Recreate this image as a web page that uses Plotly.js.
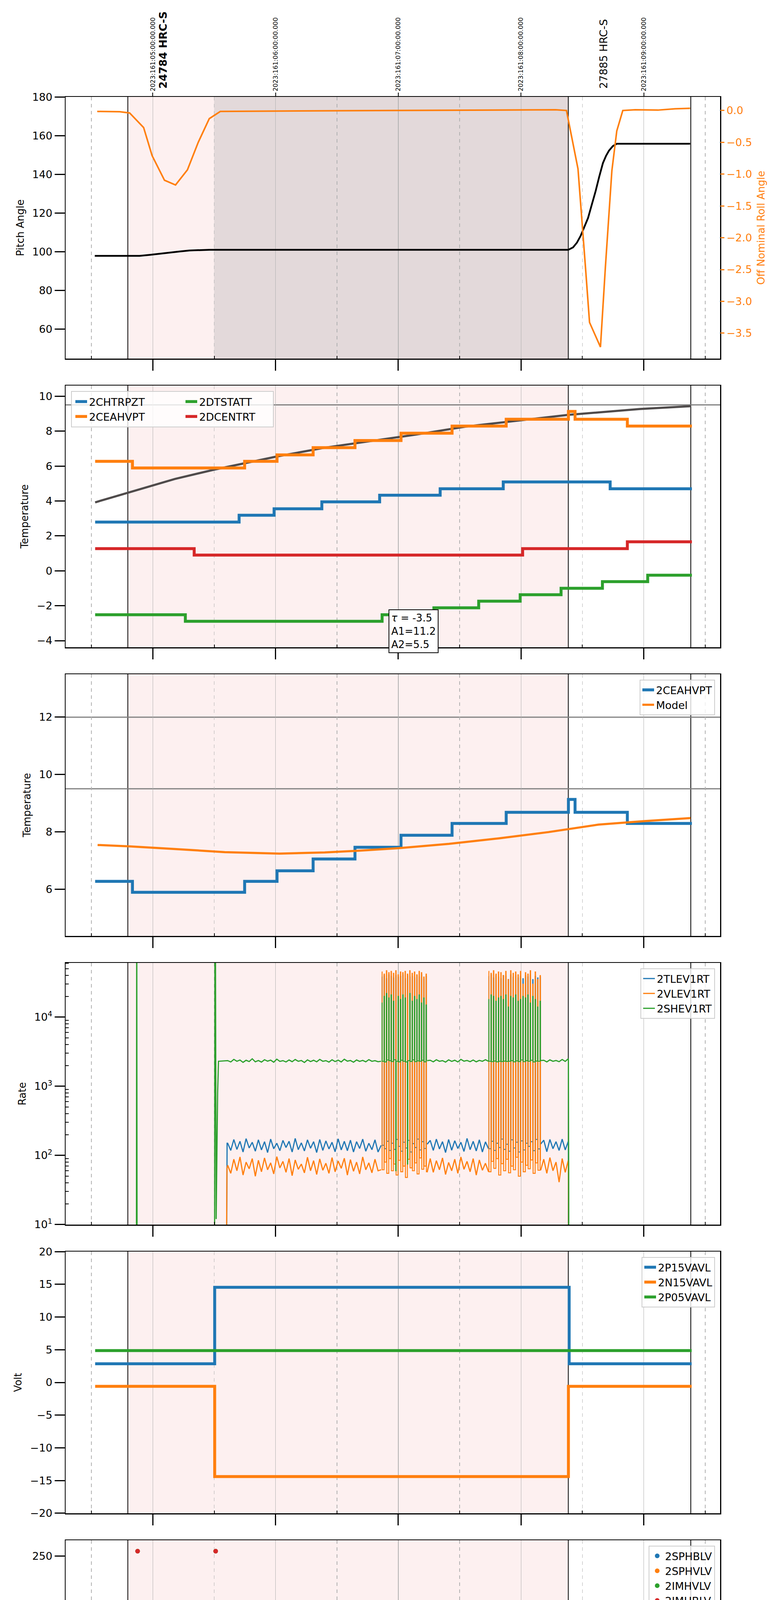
<!DOCTYPE html>
<html><head><meta charset="utf-8">
<script src="https://cdn.plot.ly/plotly-3.0.1.min.js"></script>
<style>body{margin:0;background:#fff}#chart{width:2000px;height:6200px}</style>
</head><body><div id="chart"></div>
<script>
// ---------------- DATA (x = hours of 2023-06-10 local, 161) ----------------
const hourTicks = [1, 2, 3, 4, 5];
const hourLabels = ['01h', '02h', '03h', '04h', '05h'];
const halfTicks = [0.5, 1.5, 2.5, 3.5, 4.5, 5.5];
const halfLabels = ['30', '30', '30', '30', '30', '30'];
const utcLabels = ['2023:161:05:00:00.000', '2023:161:06:00:00.000', '2023:161:07:00:00.000', '2023:161:08:00:00.000', '2023:161:09:00:00.000'];
const obsidTimes = [0.7963, 4.385];
const obsidLabels = ['24784 HRC-S', '27885 HRC-S'];
const obsidBold = [true, false];
const boundaryTimes = [0.7963, 4.385, 5.383];
const hrcShade = [0.7963, 4.385];
const darkShade = [1.499, 4.385];

// Panel 1
const pitchT = [0.527,0.70,0.892,0.974,1.05,1.136,1.22,1.298,1.38,1.46,1.6,2.5,3.5,4.385,4.424,4.455,4.485,4.515,4.546,4.577,4.607,4.637,4.667,4.692,4.716,4.748,4.78,5.0,5.378];
const pitchV = [97.9,97.9,97.9,98.4,99.0,99.7,100.2,100.7,100.95,101.05,101.05,101.05,101.05,101.05,102.3,104.7,108.2,112.5,117.5,124.5,131.2,138.8,145.8,149.5,152.2,154.6,155.8,155.8,155.8];
const rollT = [0.547,0.730,0.811,0.925,0.994,1.095,1.185,1.282,1.37,1.460,1.550,2.0,2.5,3.0,3.5,4.0,4.281,4.37,4.464,4.525,4.558,4.647,4.687,4.74,4.78,4.829,4.93,5.114,5.255,5.378];
const rollV = [-0.015,-0.02,-0.039,-0.268,-0.709,-1.096,-1.171,-0.932,-0.5,-0.128,-0.015,-0.008,-0.004,0.0,0.005,0.008,0.012,0.0,-0.918,-2.467,-3.331,-3.718,-2.467,-0.947,-0.321,0.0,0.012,0.006,0.027,0.035];

// Panel 2
const p2ModelT = [0.53,0.80,1.18,1.504,1.79,2.012,2.40,2.803,3.143,3.55,4.16,4.386,4.97,5.387];
const p2ModelV = [3.92,4.48,5.26,5.80,6.22,6.55,7.05,7.45,7.80,8.26,8.74,8.93,9.27,9.43];
const chtrT = [0.53,1.703,1.988,2.377,2.848,3.341,3.855,4.726,5.392];
const chtrV = [2.79,3.18,3.55,3.95,4.33,4.70,5.09,4.70,4.70];
const ceahT = [0.53,0.834,1.748,2.012,2.306,2.647,3.022,3.438,3.879,4.386,4.44,4.866,5.392];
const ceahV = [6.27,5.89,6.27,6.64,7.05,7.46,7.88,8.29,8.68,9.13,8.68,8.29,8.29];
const dtstT = [0.53,1.265,2.868,3.29,3.655,3.993,4.326,4.663,5.032,5.392];
const dtstV = [-2.52,-2.89,-2.52,-2.12,-1.74,-1.37,-1.0,-0.62,-0.25,-0.25];
const dcenT = [0.53,1.337,4.013,4.866,5.392];
const dcenV = [1.27,0.90,1.27,1.66,1.66];
const p2Limits = [9.5];
const fitText = ['<i>τ</i> = -3.5', 'A1=11.2', 'A2=5.5'];

// Panel 3
const modelT = [0.55,0.814,1.18,1.586,2.032,2.40,2.682,3.005,3.413,3.818,4.224,4.63,4.995,5.381];
const modelV = [7.54,7.49,7.40,7.29,7.24,7.28,7.34,7.43,7.58,7.77,7.99,8.25,8.37,8.48];
const p3Limits = [12, 9.5];

// Panel 4 (rates): quiet-time samples and burst spikes
const tNa = [1.61,1.635,1.66,1.685,1.71,1.735,1.76,1.785,1.81,1.835,
1.86,1.885,1.91,1.935,1.96,1.985,2.01,2.035,2.06,2.085,
2.11,2.135,2.16,2.185,2.21,2.235,2.26,2.285,2.31,2.335,
2.36,2.385,2.41,2.435,2.46,2.485,2.51,2.535,2.56,2.585,
2.61,2.635,2.66,2.685,2.71,2.735,2.76,2.785,2.81,2.835,2.86];
const tNb = [3.235,3.26,3.285,3.31,3.335,3.36,3.385,3.41,3.435,3.46,3.485,3.51,3.535,3.56,3.585,3.61,3.635,3.66,3.685,3.71,3.735];
const tNc = [4.16,4.185,4.21,4.235,4.26,4.285,4.31,4.335,4.36,4.385];
const rb1T = [2.865,2.868,2.884,2.887,2.903,2.906,2.922,2.925,2.941,2.944,2.960,2.963,2.979,2.982,2.998,3.001,3.017,3.020,3.036,3.039,
3.055,3.058,3.074,3.077,3.093,3.096,3.112,3.115,3.131,3.134,3.150,3.153,3.169,3.172,3.188,3.191,3.207,3.210,3.226,3.229];
const rb2T = [3.735,3.738,3.755,3.758,3.775,3.778,3.795,3.798,3.815,3.818,3.835,3.838,3.855,3.858,3.875,3.878,3.895,3.898,3.915,3.918,3.935,3.938,
3.955,3.958,3.975,3.978,3.995,3.998,4.015,4.018,4.035,4.038,4.055,4.058,4.075,4.078,4.095,4.098,4.115,4.118,4.135,4.138,4.155,4.158];
const tlevA = [150,118,170,122,160,112,175,128,155,115,168,120,158,110,172,125,150,117,165,130,160,112,176,121,152,116,168,127,158,110,170,118,162,124,155,113,174,120,160,117,166,112,158,126,172,115,150,121,168,112,140];
const tlevB = [145,165,118,172,124,158,110,170,119,163,126,155,114,176,121,160,116,168,112,157,125];
const tlevC = [146,166,113,170,125,158,118,172,120,160];
const tlevB1 = [38000,140,40000,125,36000,160,41000,118,39000,150,37000,122,40000,170,38000,135,39000,115,41000,155,36000,128,40000,165,38000,112,39000,148,37000,130,40000,172,38000,120,41000,158,36000,126,39000,145];
const tlevB2 = [39000,125,41000,160,37000,118,40000,150,38000,130,36000,172,40000,122,39000,145,35000,115,41000,168,38000,128,40000,155,37000,112,39000,162,36000,120,40000,150,38000,135,41000,158,35000,117,39000,170,37000,124,38000,146];
const vlevA = [72,55,88,60,95,52,80,64,90,50,85,58,92,62,78,54,96,66,82,57,90,51,86,63,75,56,94,60,84,53,89,61,77,55,93,58,83,65,91,52,87,59,80,54,95,62,78,56,88,60,62];
const vlevB = [57,90,57,84,62,92,53,79,60,88,55,95,63,82,58,90,52,86,61,77,58];
const vlevC = [61,88,55,93,60,80,41,90,57,85];
const vlevB1 = [45000,62,42000,80,47000,55,44000,90,46000,60,43000,75,47000,52,41000,85,45000,58,44000,70,46000,48,42000,88,47000,66,43000,60,45000,78,41000,54,46000,92,44000,63,38000,70,42000,57];
const vlevB2 = [46000,58,43000,82,47000,65,42000,90,45000,52,44000,76,40000,60,46000,88,35000,56,47000,70,43000,62,45000,94,41000,50,46000,80,30000,58,44000,72,42000,64,47000,86,30000,55,45000,78,35000,61,40000,84];
const shevA = [2350,2250,2450,2300,2400,2220,2380,2280,2500,2260,2360,2240,2420,2310,2390,2230,2470,2290,2350,2250,2400,2270,2440,2300,2360,2210,2410,2280,2380,2260,2450,2300,2350,2240,2420,2280,2390,2250,2460,2310,2360,2230,2400,2290,2370,2260,2430,2300,2350,2270,2300];
const shevB = [2350,2380,2260,2420,2300,2350,2240,2410,2290,2380,2250,2450,2310,2360,2270,2400,2260,2370,2300,2420,2300];
const shevC = [2360,2380,2250,2410,2300,2360,2270,2440,2290,2500];
const shevB1 = [16000,2300,20000,2250,22000,2400,19000,2350,21000,2280,17000,2420,60,2300,20000,2260,18000,2380,21000,2300,19000,2250,75,2350,22000,2290,17000,2410,20000,2270,18000,2330,21000,2300,16000,2380,19000,2260,15000,2350];
const shevB2 = [18000,2300,21000,2270,20000,2320,17000,2260,19000,2300,20000,2280,18000,2310,21000,2290,14000,2300,20000,2350,19000,2260,21000,2330,17000,2280,18000,2400,20000,2270,19000,2350,21000,2300,16000,2380,20000,2250,18000,2320,14000,2300,17000,2360];
const tlevPreT = [1.50,1.60,1.605], tlevPreV = [1,1,150];
const vlevPreT = [1.50,1.598,1.604], vlevPreV = [1,1,65];
const shevPreT = [0.53,0.866,0.869,0.872,1.503,1.506,1.509,1.516,1.528,1.535];
const shevPreV = [1,1,1e6,1,1,1e6,1e6,12,800,2300];
const rateEndT = [4.386,4.39,5.39];
const tlevEndV = [150,1,1], vlevEndV = [70,1,1], shevEndV = [2350,1,1];
const logTickVals = [10,100,1000,10000];
const logTickText = ['10<sup>1</sup>','10<sup>2</sup>','10<sup>3</sup>','10<sup>4</sup>'];
const logMinor = [20,30,40,50,60,70,80,90,200,300,400,500,600,700,800,900,2000,3000,4000,5000,6000,7000,8000,9000,20000,30000,40000,50000,60000];

// Panel 5
const p15T = [0.53,1.504,4.392,5.39], p15V = [2.85,14.55,2.85,2.85];
const n15T = [0.53,1.504,4.386,5.39], n15V = [-0.6,-14.4,-0.6,-0.6];
const p05T = [0.53,5.39], p05V = [4.87,4.87];

// Panel 6 (HV monitor points)
const tN = [1.61,1.635,1.66,1.685,1.71,1.735,1.76,1.785,1.81,1.835,
1.86,1.885,1.91,1.935,1.96,1.985,2.01,2.035,2.06,2.085,
2.11,2.135,2.16,2.185,2.21,2.235,2.26,2.285,2.31,2.335,
2.36,2.385,2.41,2.435,2.46,2.485,2.51,2.535,2.56,2.585,
2.61,2.635,2.66,2.685,2.71,2.735,2.76,2.785,2.81,2.835,
2.86,2.885,2.91,2.935,2.96,2.985,3.01,3.035,3.06,3.085,
3.11,3.135,3.16,3.185,3.21,3.235,3.26,3.285,3.31,3.335,
3.36,3.385,3.41,3.435,3.46,3.485,3.51,3.535,3.56,3.585,
3.61,3.635,3.66,3.685,3.71,3.735,3.76,3.785,3.81,3.835,
3.86,3.885,3.91,3.935,3.96,3.985,4.01,4.035,4.06,4.085,
4.11,4.135,4.16,4.185,4.21,4.235,4.26,4.285,4.31,4.335,
4.36,4.385];
const sphbPreT = [1.551,1.556,1.565,1.574,1.583,1.592], sphbPreV = [117,102,97,92,87,82];
const sphvPreT = [1.549,1.556,1.566,1.576,1.585,1.596], sphvPreV = [127,96,91,85,80,75];
const sphvOutT = [2.894,2.977,2.99,3.002,3.094,3.148,3.782], sphvOutV = [127,127,127,127,127,127,127];
const hvBlueBand = [77.5,77.3,77.6,77.4,77.5,77.7,77.3,77.5,77.6,77.4,
77.5,77.6,77.3,77.5,77.4,77.7,77.5,77.3,77.6,77.5,
77.4,77.5,77.7,77.3,77.5,77.6,77.4,77.5,77.3,77.6,
77.5,77.4,77.6,77.5,77.3,77.7,77.5,77.4,77.6,77.5,
77.3,77.5,77.6,77.4,77.5,77.7,77.3,77.5,77.6,77.4,
77.5,77.6,77.3,77.5,77.4,77.7,77.5,77.3,77.6,77.5,
77.4,77.5,77.7,77.3,77.5,77.6,77.4,77.5,77.3,77.6,
77.5,77.4,77.6,77.5,77.3,77.7,77.5,77.4,77.6,77.5,
77.3,77.5,77.6,77.4,77.5,77.7,77.3,77.5,77.6,77.4,
77.5,77.6,77.3,77.5,77.4,77.7,77.5,77.3,77.6,77.5,
77.4,77.5,77.7,77.3,77.5,77.6,77.4,77.5,77.3,77.6,
77.5,77.4];
const hvOrangeBand = [70.6,70.4,70.5,68.9,70.6,70.5,70.3,70.6,70.5,70.4,
70.5,70.6,69.0,70.5,70.4,70.6,70.5,70.3,70.6,68.8,
70.5,70.4,70.6,70.5,70.3,69.1,70.5,70.6,70.4,70.5,
70.6,70.3,70.5,70.4,68.9,70.6,70.5,70.4,70.6,70.5,
70.4,70.5,70.6,69.0,70.5,70.4,70.6,70.3,70.5,70.6,
70.5,70.4,68.8,70.6,70.5,70.3,70.6,70.5,69.1,70.4,
70.6,70.5,70.4,70.6,70.3,70.5,68.9,70.6,70.4,70.5,
70.5,70.6,70.4,70.5,70.3,70.6,70.5,69.0,70.4,70.6,
70.3,70.5,70.6,70.4,68.8,70.5,70.6,70.4,70.5,70.3,
70.6,70.5,70.4,69.1,70.5,70.6,70.3,70.5,70.4,70.6,
70.5,70.4,70.6,70.5,68.9,70.3,70.6,70.5,70.4,70.5,
70.6,70.4];
const imhbT = [0.876,1.512], imhbV = [255,255];
const imhvlT = [0.876,1.512], imhvlV = [255,255];

// Panel 7 (detector temps)
const spinT = [1.504,2.58,2.865,2.871,2.877,2.883,2.889,2.895,2.901,2.907,2.913,2.919,2.925,2.931,2.975,2.981,3.075,3.081,3.12,3.126,3.2,3.206,3.729,3.735,3.741,3.747,3.753,3.759,3.765,3.771,3.85,3.856,3.908,3.92,3.926,3.936,3.942,4.386];
const spinV = [3.26,3.72,0,3.72,0,3.72,0,3.72,0,3.72,0,3.72,0,3.72,0,3.72,0,3.72,0,3.72,0,3.72,0,3.72,0,3.72,0,3.72,0,3.72,0,3.72,4.14,0,4.14,0,4.14,4.14];
const sphvPreT7 = [1.504,1.679,1.756,1.833,1.910,1.988,2.072,2.170,2.276,2.397,2.539,2.702];
const sphvPreV7 = [15.26,15.54,15.81,16.10,16.38,16.66,16.96,17.24,17.53,17.81,18.10,18.40];
const sphvB1T = [2.865,2.877,2.889,2.901,2.913,2.925,2.937,2.949,2.961,2.973,2.977,2.981,3.02,3.032,3.044,3.056,3.068,3.077,3.081,3.093,3.105,3.117,3.129,3.141,3.153,3.165,3.171,3.20,3.205];
const sphvB1V = [10.5,18.69,10.5,18.69,10.5,18.69,10.5,18.69,10.5,18.69,0.2,18.69,10.5,18.69,10.5,18.69,10.5,0.2,18.97,10.5,18.97,10.5,18.97,10.5,18.97,10.5,18.97,10.8,18.97];
const sphvMidT = [3.319,3.607], sphvMidV = [19.28,19.58];
const sphvB2T = [3.729,3.741,3.753,3.765,3.777,3.789,3.801,3.813,3.818,3.90,3.912,3.924,3.936,3.948,3.96,3.972,3.984,3.996,4.008,4.02,4.026];
const sphvB2V = [11.0,19.58,11.0,19.58,11.0,19.58,11.0,19.58,19.87,11.0,19.87,11.0,19.87,11.0,19.87,11.0,19.87,11.0,19.87,11.2,19.87];
const sphvEndT = [4.265,4.386], sphvEndV = [20.18,20.18];
const iminT = [1.504,2.165,2.177,2.189,2.201,2.213,2.225,2.237,2.249,2.261,2.27,
2.865,2.871,2.877,2.883,2.889,2.895,2.935,2.941,2.947,2.953,2.959,2.965,2.971,2.977,3.02,3.026,3.032,3.038,
3.07,3.076,3.082,3.088,3.094,3.10,3.14,3.146,3.152,3.158,3.18,3.186,3.20,3.206,
3.729,3.735,3.741,3.747,3.753,3.759,3.765,3.771,3.85,3.856,3.90,3.906,3.912,3.918,3.95,3.956,4.386];
const iminV = [2.36,1.91,2.36,1.91,2.36,1.91,2.36,1.91,2.36,1.91,1.91,
3.72,1.91,3.72,1.91,3.72,1.91,3.72,1.91,3.72,1.91,3.72,1.91,3.72,1.91,3.72,1.91,3.72,1.91,
3.72,2.36,3.72,2.36,3.72,2.36,3.72,2.36,3.72,2.36,3.72,2.36,3.72,2.36,
3.72,2.36,3.72,2.36,3.72,2.36,3.72,2.36,3.72,2.36,3.72,2.36,3.72,2.36,3.72,2.36,2.36];
const imhvPreT = [0.53,1.504,1.725,1.731,2.19,2.53], imhvPreV = [-5,14.70,14.45,14.70,15.0,15.29];
const imhvB1T = [2.865,2.871,2.877,2.883,2.889,2.895,2.935,2.941,2.947,2.953,2.959,2.965,2.971,2.977,2.983,2.989,3.02,3.026,3.032,3.038,3.044,3.05,3.056,3.062,3.068,3.074,3.08,3.086,3.092,3.098,3.104,3.11,3.116,3.122,3.128,3.134,3.14,3.146,3.152,3.158,3.164,3.17,3.176,3.182,3.20,3.206];
const imhvB1V = [18.77,15.53,19.08,15.53,18.77,15.53,18.77,15.53,19.08,15.53,18.77,15.53,19.08,15.53,18.77,15.53,19.08,15.53,18.77,15.53,19.08,15.53,18.77,15.53,19.08,15.53,18.77,15.53,19.08,15.53,18.77,15.53,19.08,15.53,18.77,15.53,19.08,15.53,18.77,15.53,19.08,15.53,18.77,15.53,19.08,15.53];
const imhvMidT = [3.21,3.58], imhvMidV = [15.83,16.11];
const imhvB2T = [3.729,3.735,3.741,3.747,3.753,3.759,3.765,3.771,3.777,3.783,3.789,3.795,3.801,3.807,3.813,3.819,3.90,3.906,3.912,3.918,3.924,3.93,3.936,3.942,3.948,3.954,3.96,3.966,3.972,3.978,3.984,3.99,4.02,4.026];
const imhvB2V = [19.99,16.11,19.7,16.11,19.99,16.11,19.7,16.11,19.99,16.11,19.7,16.11,19.99,16.11,19.7,16.11,19.99,16.11,19.7,16.11,19.99,16.11,19.99,16.11,19.7,16.11,19.99,16.4,19.7,16.4,19.99,16.4,19.99,16.4];
const imhvEndT = [4.37,4.386,4.392,5.39], imhvEndV = [16.7,30,-5,-5];

// Panel 8 (FEA temps)
const fhtrT = [0.53,1.078,1.748,1.91,2.072,2.227,2.377,2.535,2.71,2.872,3.039,3.238,3.413,3.607,3.818,4.0,4.204,4.21,4.434,4.659,5.109,5.39];
const fhtrV = [-6.0,-6.39,-6.0,-5.6,-5.21,-4.82,-4.42,-4.04,-3.65,-3.27,-2.88,-2.50,-2.10,-1.75,-1.37,-0.99,-0.17,-0.61,-0.23,-0.61,-0.99,-0.99];
const fradT = [0.53,1.301,1.626,1.789,1.951,2.101,2.264,2.43,2.6,2.783,2.966,3.161,3.36,3.566,3.818,4.0,4.216,5.39];
const fradV = [-8.81,-9.4,-8.81,-8.40,-7.99,-7.58,-7.18,-6.78,-6.38,-5.99,-5.60,-5.21,-4.82,-4.42,-4.04,-3.65,-3.27,-3.27];
const feprPreT = [1.504,1.573,1.617,1.66,1.748,1.837,1.951,2.085,2.227,2.389,2.552,2.722,2.865];
const feprPreV = [-5.03,-4.63,-4.25,-3.80,-3.39,-2.98,-2.59,-2.21,-1.80,-1.40,-0.99,-0.58,-0.3];
const feprB1T = [2.877,2.883,2.889,2.895,2.901,2.907,2.98,2.986,3.05,3.056,3.10,3.106,3.112,3.118,3.16,3.166,3.172,3.178,3.184,3.19];
const feprB1V = [-4.68,-0.3,-4.68,-0.3,-4.68,-0.3,-4.68,-0.3,-4.68,-0.3,-4.68,0.24,-4.68,0.24,-4.68,0.24,-4.68,0.24,-4.68,0.24];
const feprMidT = [3.27,3.514,3.717], feprMidV = [0.64,1.05,1.52];
const feprB2T = [3.729,3.735,3.741,3.747,3.753,3.759,3.765,3.771,3.777,3.783,3.789,3.795,3.806,3.812,3.905,3.911];
const feprB2V = [-4.68,1.52,-4.68,1.52,-4.68,1.52,-4.68,1.52,-4.68,1.52,-4.68,1.52,-4.68,1.52,-4.68,1.52];
const feprEndT = [3.96,4.196,4.386], feprEndV = [1.92,2.40,2.40];
const fe00PreT = [0.53,1.504,1.646,1.748,1.837,1.843,1.869,1.983,2.10,2.194,2.316,2.438,2.457,2.463,2.56,2.682,2.742,2.748,2.824];
const fe00PreV = [-12,-4.16,-3.81,-3.46,-3.9,-3.46,-3.08,-2.78,-2.45,-2.11,-1.78,-1.45,-2.2,-1.45,-1.10,-0.79,-1.80,-0.79,-0.47];
const fe00B1T = [2.865,2.877,2.889,2.901,2.913,2.925,2.937,2.949,2.961,2.973,2.977,2.981,2.993,3.005,3.017,3.029,3.041,3.053,3.065,3.077,3.081,3.093,3.105,3.117,3.129,3.141,3.153,3.165,3.177,3.189,3.201];
const fe00B1V = [5,-0.5,5,-0.5,5,-0.5,5,-0.5,5,-0.5,-12,5,-0.5,5,-0.5,5,-0.5,5,-0.5,-12,5,0.06,5,0.06,5,0.06,5,0.06,5,0.06,5];
const fe00MidT = [3.207,3.25,3.323,3.329,3.384,3.534,3.546,3.552,3.696];
const fe00MidV = [0.06,0.47,-0.17,0.47,0.82,1.11,0.49,1.11,1.44];
const fe00B2T = [3.729,3.741,3.753,3.765,3.777,3.789,3.801,3.813,3.825,3.837,3.86,3.866,3.90,3.912,3.924,3.936,3.948,3.96,3.972,3.984,3.996,4.008,4.02,4.032];
const fe00B2V = [5,1.44,5,1.44,5,1.44,5,1.44,5,1.44,5,1.75,5,1.75,5,1.75,5,1.75,5,1.75,5,1.75,5,1.75];
const fe00EndT = [4.035,4.192,4.386,4.392,5.39], fe00EndV = [2.07,2.39,5,-12,-12];

// ---------------- LAYOUT / DRAWING ----------------
const C = {blue:'#1f77b4', orange:'#ff7f0e', green:'#2ca02c', red:'#d62728'};
const W = 2000, H = 6200, ML = 168, MR = 156, PW = W - ML - MR;
const panelTop = [248, 987, 1726, 2465, 3204, 3943, 4682, 5421], panelH = 670;
const xRange = [0.2894, 5.6216];
const xid = k => k === 0 ? 'x' : 'x' + (k + 1);
const yid = k => k === 0 ? 'y' : 'y' + (k + 1);
const xkey = k => k === 0 ? 'xaxis' : 'xaxis' + (k + 1);
const ykey = k => k === 0 ? 'yaxis' : 'yaxis' + (k + 1);
const px2x = p => (p - ML) / PW;
const px2y = p => 1 - p / H;
const cat = (...a) => [].concat(...a);

const traces = [];
function ln(x, y, name, color, k, width, shape, legend) {
  const t = {type:'scatter', mode:'lines', x:x, y:y, name:name, xaxis:xid(k), yaxis:yid(k),
    line:{color:color, width:width, shape:shape}, showlegend:!!legend, hoverinfo:'skip', connectgaps:false};
  if (legend) t.legend = legend;
  return t;
}
function pts(x, y, name, color, k, legend) {
  return {type:'scatter', mode:'markers', x:x, y:y, name:name, xaxis:xid(k), yaxis:yid(k),
    marker:{color:color, size:12}, showlegend:true, legend:legend, hoverinfo:'skip'};
}
// P1
traces.push(ln(pitchT, pitchV, 'Pitch', 'black', 0, 4.5, 'linear', null));
traces.push(Object.assign(ln(rollT, rollV, 'Roll', C.orange, 0, 4, 'linear', null), {yaxis:'y9'}));
// P2
traces.push(ln(p2ModelT, p2ModelV, 'model', '#4f4b4b', 1, 5.5, 'linear', null));
traces.push(ln(chtrT, chtrV, '2CHTRPZT', C.blue, 1, 7.5, 'hv', 'legend'));
traces.push(ln(ceahT, ceahV, '2CEAHVPT', C.orange, 1, 7.5, 'hv', 'legend'));
traces.push(ln(dtstT, dtstV, '2DTSTATT', C.green, 1, 7.5, 'hv', 'legend2'));
traces.push(ln(dcenT, dcenV, '2DCENTRT', C.red, 1, 7.5, 'hv', 'legend2'));
// P3
traces.push(ln(ceahT, ceahV, '2CEAHVPT', C.blue, 2, 7.5, 'hv', 'legend3'));
traces.push(ln(modelT, modelV, 'Model', C.orange, 2, 5.5, 'linear', 'legend3'));
// P4: quiet samples (linear) + burst spikes (step)
const gap = [null];
traces.push(ln(cat(tlevPreT, tNa, gap, tNb, gap, tNc, rateEndT), cat(tlevPreV, tlevA, gap, tlevB, gap, tlevC, tlevEndV), '2TLEV1RT', C.blue, 3, 3, 'linear', 'legend4'));
traces.push(ln(cat(rb1T, gap, rb2T), cat(tlevB1, gap, tlevB2), '2TLEV1RT', C.blue, 3, 2.4, 'hv', null));
traces.push(ln(cat(vlevPreT, tNa, gap, tNb, gap, tNc, rateEndT), cat(vlevPreV, vlevA, gap, vlevB, gap, vlevC, vlevEndV), '2VLEV1RT', C.orange, 3, 3, 'linear', 'legend4'));
traces.push(ln(cat(rb1T, gap, rb2T), cat(vlevB1, gap, vlevB2), '2VLEV1RT', C.orange, 3, 2.4, 'hv', null));
traces.push(ln(cat(shevPreT, tNa, gap, tNb, gap, tNc, rateEndT), cat(shevPreV, shevA, gap, shevB, gap, shevC, shevEndV), '2SHEV1RT', C.green, 3, 3, 'linear', 'legend4'));
traces.push(ln(cat(rb1T, gap, rb2T), cat(shevB1, gap, shevB2), '2SHEV1RT', C.green, 3, 2.4, 'hv', null));
// P5
traces.push(ln(p15T, p15V, '2P15VAVL', C.blue, 4, 7.5, 'hv', 'legend5'));
traces.push(ln(n15T, n15V, '2N15VAVL', C.orange, 4, 7.5, 'hv', 'legend5'));
traces.push(ln(p05T, p05V, '2P05VAVL', C.green, 4, 7.5, 'hv', 'legend5'));
// P6
traces.push(pts(cat(sphbPreT, tN), cat(sphbPreV, hvBlueBand), '2SPHBLV', C.blue, 5, 'legend6'));
traces.push(pts(cat(sphvPreT, tN, sphvOutT), cat(sphvPreV, hvOrangeBand, sphvOutV), '2SPHVLV', C.orange, 5, 'legend6'));
traces.push(pts(imhvlT, imhvlV, '2IMHVLV', C.green, 5, 'legend6'));
traces.push(pts(imhbT, imhbV, '2IMHBLV', C.red, 5, 'legend6'));
// P7
traces.push(ln(spinT, spinV, '2SPINATM', C.blue, 6, 7.5, 'hv', 'legend7'));
traces.push(ln(cat(sphvPreT7, sphvB1T, sphvMidT, sphvB2T, sphvEndT), cat(sphvPreV7, sphvB1V, sphvMidV, sphvB2V, sphvEndV), '2SPHVATM', C.orange, 6, 7.5, 'hv', 'legend7'));
traces.push(ln(iminT, iminV, '2IMINATM', C.green, 6, 7.5, 'hv', 'legend7'));
traces.push(ln(cat(imhvPreT, imhvB1T, imhvMidT, imhvB2T, imhvEndT), cat(imhvPreV, imhvB1V, imhvMidV, imhvB2V, imhvEndV), '2IMHVATM', C.red, 6, 7.5, 'hv', 'legend7'));
// P8
traces.push(ln(fhtrT, fhtrV, '2FHTRMZT', C.blue, 7, 7.5, 'hv', 'legend8'));
traces.push(ln(fradT, fradV, '2FRADPYT', C.orange, 7, 7.5, 'hv', 'legend8'));
traces.push(ln(cat(feprPreT, feprB1T, feprMidT, feprB2T, feprEndT), cat(feprPreV, feprB1V, feprMidV, feprB2V, feprEndV), '2FEPRATM', C.green, 7, 7.5, 'hv', 'legend8'));
traces.push(ln(cat(fe00PreT, fe00B1T, fe00MidT, fe00B2T, fe00EndT), cat(fe00PreV, fe00B1V, fe00MidV, fe00B2V, fe00EndV), '2FE00ATM', C.red, 7, 7.5, 'hv', 'legend8'));
// anchors for overlay axes
traces.push({type:'scatter', mode:'lines', x:[], y:[], xaxis:'x9', yaxis:'y8', showlegend:false});
traces.push({type:'scatter', mode:'lines', x:[], y:[], xaxis:'x10', yaxis:'y', showlegend:false});

const yCfg = [
  {range:[44.86,180.01], dtick:20, tick0:0, title:'Pitch Angle'},
  {range:[-4.38,10.61], dtick:2, tick0:0, title:'Temperature'},
  {range:[4.366,13.498], dtick:2, tick0:0, title:'Temperature'},
  {range:[0.999,4.785], type:'log', title:'Rate'},
  {range:[-20.01,20.01], dtick:5, tick0:0, title:'Volt'},
  {range:[-0.01,266.1], dtick:50, tick0:0, title:'HV Monitor'},
  {range:[0.43,21.08], dtick:2.5, tick0:0, tickformat:'.1f', title:'Detector Temp'},
  {range:[-9.1,2.61], dtick:2, tick0:0, title:'FEA Temp'}
];

const layout = {
  width:W, height:H, margin:{l:ML, r:MR, t:0, b:0}, paper_bgcolor:'white', plot_bgcolor:'white',
  font:{family:'DejaVu Sans', size:27, color:'black'}, showlegend:true, shapes:[], annotations:[]
};

for (let k = 0; k < 8; k++) {
  const dom = [px2y(panelTop[k] + panelH), px2y(panelTop[k])];
  layout[xkey(k)] = {
    domain:[0,1], anchor:yid(k), range:xRange, tickmode:'array', tickvals:hourTicks, ticktext:hourLabels,
    showticklabels:k === 7, ticks:'outside', ticklen:28, tickwidth:3, tickcolor:'black',
    showgrid:true, gridcolor:'#b0b0b0', gridwidth:1.5, zeroline:false,
    minor:{tickmode:'array', tickvals:halfTicks, ticks:'inside', ticklen:7, tickwidth:2, tickcolor:'black',
      showgrid:true, gridcolor:'#b0b0b0', gridwidth:1.5, griddash:'dash'},
    showline:true, linecolor:'black', linewidth:2.5, mirror:true, tickfont:{size:26}
  };
  if (k === 7) layout[xkey(k)].title = {text:'2023-06-10 (161)', font:{size:30}, standoff:12};
  const c = yCfg[k];
  const ya = {
    domain:dom, anchor:xid(k), range:c.range, ticks:'outside', ticklen:26, tickwidth:3, tickcolor:'black',
    showgrid:false, zeroline:false, showline:true, linecolor:'black', linewidth:2.5, mirror:true,
    tickfont:{size:27}, title:{text:c.title, font:{size:26}, standoff:14}
  };
  if (c.type === 'log') {
    ya.type = 'log'; ya.tickmode = 'array'; ya.tickvals = logTickVals; ya.ticktext = logTickText;
    ya.minor = {tickmode:'array', tickvals:logMinor, ticks:'inside', ticklen:8, tickwidth:2, tickcolor:'black', showgrid:false};
  } else {
    ya.dtick = c.dtick; ya.tick0 = c.tick0;
    if (c.tickformat) ya.tickformat = c.tickformat;
  }
  layout[ykey(k)] = ya;
  layout.shapes.push({type:'rect', xref:xid(k), yref:yid(k) + ' domain', x0:hrcShade[0], x1:hrcShade[1], y0:0, y1:1,
    fillcolor:'#fdf0f0', line:{width:0}, layer:'below'});
  if (k === 0) layout.shapes.push({type:'rect', xref:'x', yref:'y domain', x0:darkShade[0], x1:darkShade[1], y0:0, y1:1,
    fillcolor:'#e3d9da', line:{width:0}, layer:'below'});
  boundaryTimes.forEach(t => layout.shapes.push({type:'line', xref:xid(k), yref:yid(k) + ' domain', x0:t, x1:t, y0:0, y1:1,
    line:{color:'black', width:2}, layer:'below'}));
}
p2Limits.forEach(v => layout.shapes.push({type:'line', xref:'x2 domain', yref:'y2', x0:0, x1:1, y0:v, y1:v, line:{color:'#808080', width:3}, layer:'below'}));
p3Limits.forEach(v => layout.shapes.push({type:'line', xref:'x3 domain', yref:'y3', x0:0, x1:1, y0:v, y1:v, line:{color:'#808080', width:3}, layer:'below'}));

layout.yaxis9 = {overlaying:'y', side:'right', anchor:'x', range:[-3.90,0.214], dtick:0.5, tick0:0, tickformat:'.1f',
  ticks:'outside', ticklen:10, tickwidth:3, tickcolor:C.orange, tickfont:{size:27, color:C.orange},
  showgrid:false, zeroline:false, showline:false,
  title:{text:'Off Nominal Roll Angle', font:{size:26, color:C.orange}, standoff:14}};
layout.xaxis10 = {overlaying:'x', side:'top', anchor:'y', range:xRange, tickmode:'array', tickvals:hourTicks, ticktext:utcLabels,
  tickangle:-90, ticks:'outside', ticklen:10, tickwidth:2, tickcolor:'black', tickfont:{size:16},
  showgrid:false, zeroline:false, showline:false};
layout.xaxis9 = {overlaying:'x8', side:'bottom', anchor:'y8', range:xRange, tickmode:'array', tickvals:halfTicks, ticktext:halfLabels,
  ticks:'', tickfont:{size:18}, showgrid:false, zeroline:false, showline:false};

obsidTimes.forEach((t, i) => layout.annotations.push({xref:'x', yref:'paper', x:t + 0.285, y:px2y(panelTop[0] - 19),
  text: obsidBold[i] ? '<b>' + obsidLabels[i] + '</b>' : obsidLabels[i], textangle:-90, xanchor:'center', yanchor:'bottom',
  showarrow:false, font:{size:27, color:'black'}}));
layout.annotations.push({xref:'x2', yref:'y2', x:2.922, y:-2.207, xanchor:'left', yanchor:'top', text:fitText.join('<br>'),
  align:'left', showarrow:false, bordercolor:'black', borderwidth:2, borderpad:5, bgcolor:'white', font:{size:26}});

const lgFont = {size:27};
layout.legend = {x:px2x(188), y:px2y(panelTop[1] + 17), xanchor:'left', yanchor:'top', bgcolor:'rgba(0,0,0,0)', borderwidth:0, font:lgFont};
layout.legend2 = {x:px2x(470), y:px2y(panelTop[1] + 17), xanchor:'left', yanchor:'top', bgcolor:'rgba(0,0,0,0)', borderwidth:0, font:lgFont};
layout.shapes.push({type:'rect', xref:'paper', yref:'paper', x0:px2x(183), x1:px2x(700), y0:px2y(panelTop[1] + 106), y1:px2y(panelTop[1] + 15),
  fillcolor:'rgba(255,255,255,0.8)', line:{color:'#cccccc', width:2}, layer:'above'});
[3,4,5,6,7].forEach(n => {
  layout['legend' + n] = {x:px2x(1831), y:px2y(panelTop[n - 1] + 14), xanchor:'right', yanchor:'top',
    bgcolor:'rgba(255,255,255,0.8)', bordercolor:'#cccccc', borderwidth:2, font:lgFont};
});
layout.legend8 = {x:px2x(1831), y:px2y(panelTop[7] + panelH - 13), xanchor:'right', yanchor:'bottom',
  bgcolor:'rgba(255,255,255,0.8)', bordercolor:'#cccccc', borderwidth:2, font:lgFont};

Plotly.newPlot('chart', traces, layout, {staticPlot:true});
</script></body></html>
